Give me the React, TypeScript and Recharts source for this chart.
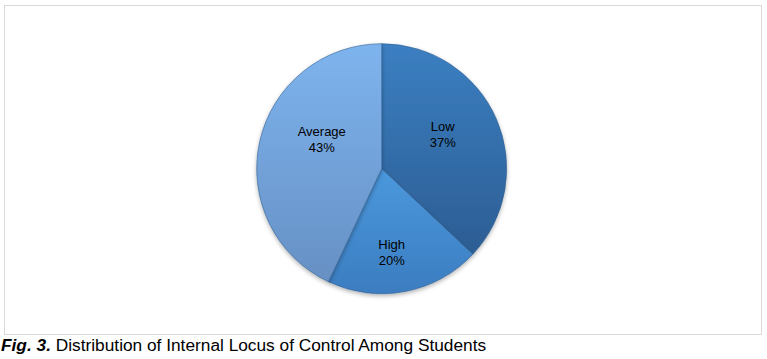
import React from "react";
import { PieChart, Pie, Cell } from "recharts";

const categories = ["Low", "High", "Average"];
const percents = [37, 20, 43];

const COLORS_TOP = ["#3b7fc2", "#4b98dd", "#7eb4ee"];
const COLORS_BOTTOM = ["#2c5d93", "#3b7dc0", "#6690c4"];
// fine placement tweaks for the labels (Excel "best fit" style), in px
const LABEL_NUDGE: [number, number][] = [
  [-5.5, -5.7],
  [-3.6, 11.6],
  [10.8, -13.7],
];

const data = categories.map((name, i) => ({ name, value: percents[i] }));

const RADIAN = Math.PI / 180;

const renderLabel = (props: any) => {
  const { cx, cy, midAngle, outerRadius, name, value, index } = props;
  const r = outerRadius * 0.58;
  const n = LABEL_NUDGE[index] || [0, 0];
  const x = cx + r * Math.cos(-midAngle * RADIAN) + n[0];
  const y = cy + r * Math.sin(-midAngle * RADIAN) + n[1];
  return (
    <text
      x={x}
      y={y}
      textAnchor="middle"
      fill="#000"
      fontFamily="Arial, 'Liberation Sans', sans-serif"
      fontSize={13}
    >
      <tspan x={x} dy={-3}>{name}</tspan>
      <tspan x={x} dy={16}>{value}%</tspan>
    </text>
  );
};

export default function App() {
  return (
    <div
      style={{
        position: "absolute",
        left: 0,
        top: 0,
        width: 767,
        height: 359,
        background: "#fff",
        fontFamily: "Arial, 'Liberation Sans', sans-serif",
      }}
    >
      <div
        style={{
          position: "absolute",
          left: 4,
          top: 5,
          width: 756,
          height: 328,
          border: "1px solid #d9d9d9",
        }}
      />
      <div style={{ position: "absolute", left: 0, top: 0 }}>
        <PieChart width={767} height={335} margin={{ top: 0, right: 0, bottom: 0, left: 0 }}>
          <defs>
            {categories.map((c, i) => (
              <linearGradient key={c} id={`grad-${i}`} x1="0" y1="0" x2="0" y2="1">
                <stop offset="0%" stopColor={COLORS_TOP[i]} />
                <stop offset="100%" stopColor={COLORS_BOTTOM[i]} />
              </linearGradient>
            ))}
            <filter id="shadow" x="-20%" y="-20%" width="140%" height="140%">
              <feDropShadow dx="0" dy="2" stdDeviation="2" floodColor="#000" floodOpacity="0.3" />
            </filter>
          </defs>
          <Pie
            data={data}
            dataKey="value"
            nameKey="name"
            cx={381.7}
            cy={168.7}
            outerRadius={125}
            startAngle={90}
            endAngle={-270}
            stroke="#2f5f92"
            strokeWidth={0.6}
            label={renderLabel}
            labelLine={false}
            isAnimationActive={false}
          >
            {data.map((d, i) => (
              <Cell key={d.name} fill={`url(#grad-${i})`} filter="url(#shadow)" />
            ))}
          </Pie>
        </PieChart>
      </div>
      <div
        style={{
          position: "absolute",
          left: 1,
          top: 335,
          fontSize: 17.3,
          color: "#000",
          whiteSpace: "nowrap",
        }}
      >
        <b>
          <i>Fig. 3.</i>
        </b>{" "}
        Distribution of Internal Locus of Control Among Students
      </div>
    </div>
  );
}
